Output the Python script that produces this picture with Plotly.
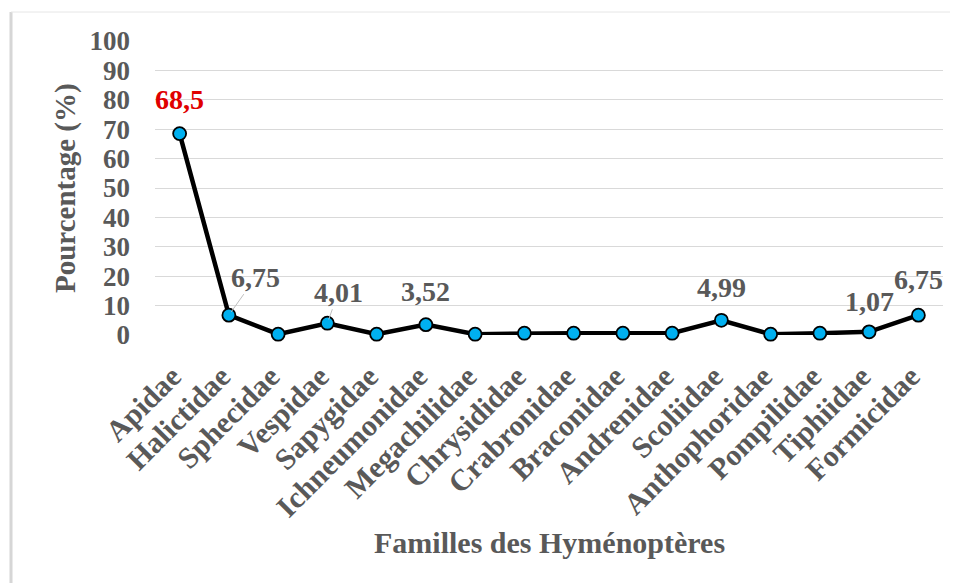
import plotly.graph_objects as go

familles = ['Apidae', 'Halictidae', 'Sphecidae', 'Vespidae', 'Sapygidae', 'Ichneumonidae',
            'Megachilidae', 'Chrysididae', 'Crabronidae', 'Braconidae', 'Andrenidae',
            'Scoliidae', 'Anthophoridae', 'Pompilidae', 'Tiphiidae', 'Formicidae']
pourcentages = [68.5, 6.75, 0.27, 4.01, 0.27, 3.52, 0.27, 0.62, 0.62, 0.62, 0.62,
                4.99, 0.27, 0.62, 1.07, 6.75]
y_ticks = [0, 10, 20, 30, 40, 50, 60, 70, 80, 90, 100]

# labelled points: (family, text, dx px, dy px, leader line)
labels = [
    ('Apidae', '68,5', 0, -34, False),
    ('Halictidae', '6,75', 27, -38, True),
    ('Vespidae', '4,01', 11, -31, True),
    ('Ichneumonidae', '3,52', 0, -33, False),
    ('Scoliidae', '4,99', 0, -33, False),
    ('Tiphiidae', '1,07', 0, -30, False),
    ('Formicidae', '6,75', 0, -36, False),
]

serif = 'Liberation Serif'
grey = '#595959'
n = len(familles)
idx = list(range(n))
shift = -0.15  # tick labels sit slightly left of their points

# figure sits 8px in from the window corner (page margin)
W, H, L, R, T, B = 950, 575, 147, 15, 33, 248

fig = go.Figure()

fig.add_trace(go.Scatter(
    x=idx, y=pourcentages,
    mode='lines+markers',
    line=dict(color='black', width=4.5),
    marker=dict(size=13, color='#00B0F0', line=dict(color='black', width=1.8)),
    cliponaxis=False,
    text=familles, hovertemplate='%{text}: %{y}<extra></extra>',
))

for fam, txt, dx, dy, leader in labels:
    i = familles.index(fam)
    fig.add_annotation(
        x=i, y=pourcentages[i], text=txt,
        showarrow=leader, arrowhead=0, arrowwidth=1, arrowcolor='#bfbfbf',
        ax=dx, ay=dy, standoff=4,
        xshift=0 if leader else dx, yshift=0 if leader else -dy,
        font=dict(family=serif, size=28, weight='bold',
                  color='#e00000' if fam == 'Apidae' else grey),
    )

pw = W - L - R
fig.add_annotation(
    x=(549 - 8 - L) / pw, y=-0.707, xref='paper', yref='paper', showarrow=False,
    xanchor='center', yanchor='middle',
    text='Familles des Hyménoptères',
    font=dict(family=serif, size=30, weight='bold', color=grey),
)
fig.add_annotation(
    x=(65 - 8 - L) / pw, y=0.5, xref='paper', yref='paper', showarrow=False,
    xanchor='center', yanchor='middle',
    text='Pourcentage (%)', textangle=-90,
    font=dict(family=serif, size=29, weight='bold', color=grey),
)

# chart frame (left and top edges visible)
fx = (3 - L) / pw
fig.add_shape(type='line', xref='paper', yref='paper',
              x0=fx, x1=fx, y0=1.0986, y1=-0.9,
              line=dict(color='#d6d6d6', width=3))
fig.add_shape(type='line', xref='paper', yref='paper',
              x0=fx, x1=1.03, y0=1.0986, y1=1.0986,
              line=dict(color='#e6e6e6', width=1))

fig.update_layout(
    width=W, height=H,
    paper_bgcolor='white', plot_bgcolor='white',
    margin=dict(l=L, r=R, t=T, b=B),
    showlegend=False,
    xaxis=dict(
        range=[-0.5, n - 0.5],
        tickvals=[i + shift for i in idx], ticktext=familles,
        tickangle=-45, showgrid=False, showline=False, ticks='', zeroline=False,
        ticklabelstandoff=17, automargin=False,
        tickfont=dict(family=serif, size=30, weight='bold', color=grey),
    ),
    yaxis=dict(
        range=[0, 100], tickvals=y_ticks, showgrid=True, gridcolor='#d9d9d9',
        gridwidth=1, zeroline=False, showline=False, ticks='',
        ticklabelstandoff=24, automargin=False,
        tickfont=dict(family=serif, size=27, weight='bold', color=grey),
    ),
)

fig.write_html("out.html")
